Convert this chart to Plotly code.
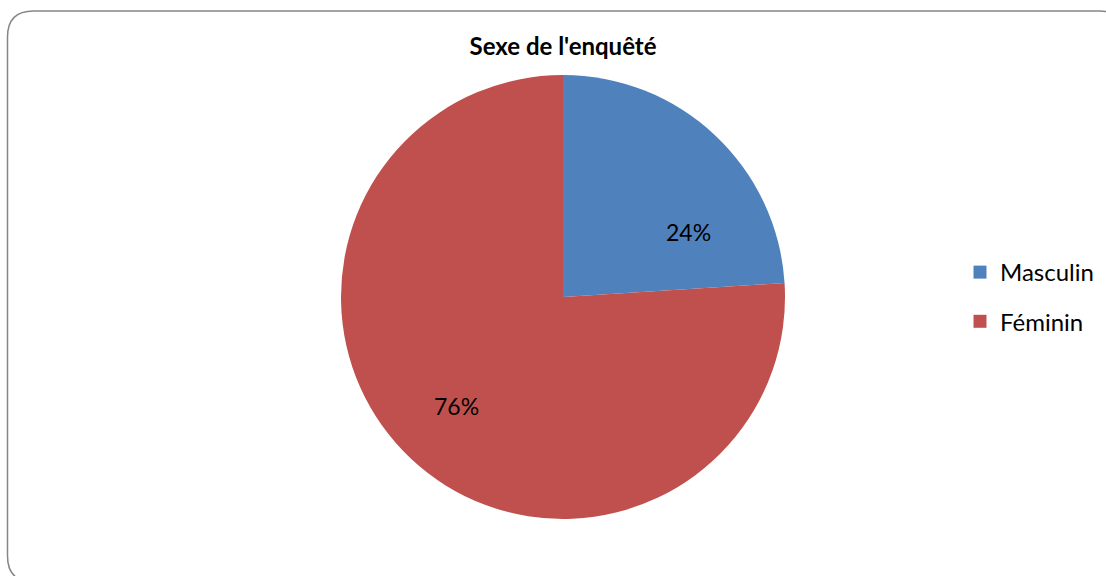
import plotly.graph_objects as go

title = "Sexe de l'enquêté"
labels = ["Masculin", "Féminin"]
values = [24, 76]
colors = ["#4F81BD", "#C0504D"]

W, H = 1106, 576
cx, cy, r = 563, 297, 222
FONT = "Lato, Noto Sans, sans-serif"

def px(x):
    return x / W

def py(y):
    return 1 - y / H

fig = go.Figure()
fig.add_trace(go.Pie(
    labels=labels,
    values=values,
    sort=False,
    direction="clockwise",
    rotation=0,
    marker=dict(colors=colors, line=dict(width=0)),
    textinfo="none",
    domain=dict(x=[px(cx - r), px(cx + r)], y=[py(cy + r), py(cy - r)]),
    hoverinfo="label+percent",
    showlegend=False,
))

# legend entries (one per category) so the spacing can match the reference
for i, (lab, col) in enumerate(zip(labels, colors)):
    fig.add_trace(go.Scatter(
        x=[None], y=[None], mode="markers", name=lab,
        marker=dict(symbol="square", size=13, color=col),
        legendgroup=f"g{i}", showlegend=True, hoverinfo="skip",
    ))

# percentage labels (text from the data)
total = sum(values)
label_pos = [(688, 232), (456, 406)]
annotations = []
for v, (lx, ly) in zip(values, label_pos):
    annotations.append(dict(
        text=f"{round(100 * v / total)}%", x=px(lx), y=py(ly),
        xref="paper", yref="paper", showarrow=False,
        xanchor="center", yanchor="middle",
        font=dict(family=FONT, size=23, color="#000000"),
    ))

# rounded chart-area border
L, T, R, B, rad = 7.5, 11, 1126, 582, 26
path = (
    f"M {px(L+rad)} {py(T)} L {px(R-rad)} {py(T)} Q {px(R)} {py(T)} {px(R)} {py(T+rad)} "
    f"L {px(R)} {py(B-rad)} Q {px(R)} {py(B)} {px(R-rad)} {py(B)} "
    f"L {px(L+rad)} {py(B)} Q {px(L)} {py(B)} {px(L)} {py(B-rad)} "
    f"L {px(L)} {py(T+rad)} Q {px(L)} {py(T)} {px(L+rad)} {py(T)} Z"
)

fig.update_layout(
    width=W, height=H,
    margin=dict(l=0, r=0, t=0, b=0),
    paper_bgcolor="white",
    plot_bgcolor="white",
    xaxis=dict(visible=False),
    yaxis=dict(visible=False),
    title=dict(text="<b>" + title + "</b>", x=563 / W, xanchor="center",
               y=py(47), yanchor="middle",
               font=dict(family=FONT, size=24, color="#000000")),
    legend=dict(x=px(960), xanchor="left", y=py(297), yanchor="middle",
                font=dict(family=FONT, size=24, color="#000000"),
                itemwidth=30, traceorder="grouped", tracegroupgap=15,
                bgcolor="rgba(0,0,0,0)"),
    annotations=annotations,
    shapes=[dict(type="path", path=path, xref="paper", yref="paper",
                 line=dict(color="#868686", width=1.5), fillcolor="rgba(0,0,0,0)", layer="below")],
)

fig.write_html("out.html", config={"displayModeBar": False},
               post_script="document.body.style.margin='0';document.body.style.overflow='hidden';")
